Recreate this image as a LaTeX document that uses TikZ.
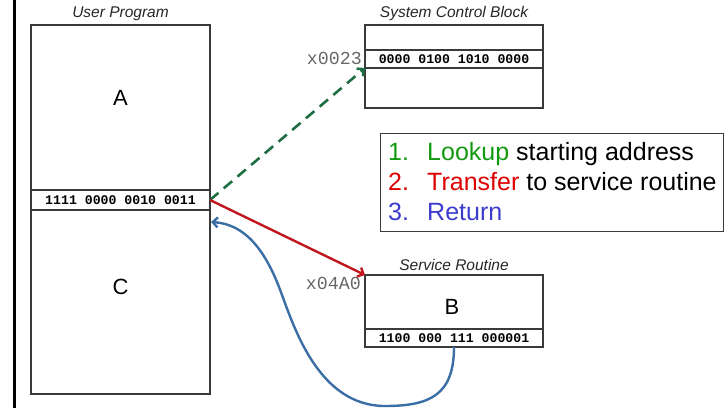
\documentclass[tikz,border=0pt]{standalone}
\usepackage{fontspec}
\setmainfont{Liberation Sans}
\setmonofont{Liberation Mono}
\usetikzlibrary{arrows.meta}
\definecolor{boxline}{HTML}{3A3A3A}
\definecolor{lookgreen}{HTML}{1F6E43}
\definecolor{jmpred}{HTML}{C0171F}
\definecolor{retblue}{HTML}{3A6EA5}
\definecolor{txtgreen}{HTML}{119A11}
\definecolor{txtred}{HTML}{DD0000}
\definecolor{txtblue}{HTML}{3C3CCC}
\begin{document}
\begin{tikzpicture}[x=1pt, y=1pt,
    mem/.style={draw=boxline, line width=1.6pt, anchor=north west, inner sep=0pt, outer sep=0pt},
    word/.style={mem, font=\fontsize{13.2}{14}\selectfont\ttfamily\bfseries},
    title/.style={font=\fontsize{15.5}{17}\selectfont\itshape, text=black!85},
    addr/.style={anchor=east, inner sep=0pt, text=black!60, font=\fontsize{18.3}{20}\selectfont\ttfamily},
    big/.style={font=\fontsize{22}{24}\selectfont}]
    \useasboundingbox (0, 0) rectangle (725, -408);
    \draw[line width=3pt] (14.3, 0) -- (14.3, -408);
    % user program
    \node[mem, minimum width=179, minimum height=369] (prog) at (31, -25) {};
    \node[word, minimum width=179, minimum height=20] (trapinst) at (31, -190) {1111 0000 0010 0011};
    \node[title] (progtitle) at (prog.north) [above=1pt] {User Program};
    \node[big] (blkA) at (120.5, -98) {A};
    \node[big] (blkC) at (120.5, -287) {C};
    \coordinate (retpt) at (211, -222);
    % system control block
    \node[mem, minimum width=178, minimum height=83] (scb) at (365, -25) {};
    \node[word, minimum width=178, minimum height=18] (vecrow) at (365, -50) {0000 0100 1010 0000};
    \node[title] (scbtitle) at (scb.north) [above=1pt] {System Control Block};
    \node[addr] (vecaddr) at (362, -58) {x0023};
    % service routine
    \node[mem, minimum width=178, minimum height=72] (srv) at (365, -275) {};
    \node[word, minimum width=178, minimum height=18] (retrow) at (365, -329) {1100 000 111 000001};
    \node[title] (srvtitle) at (srv.north) [above=1pt] {Service Routine};
    \node[big] (blkB) at (452, -307) {B};
    \node[addr] (srvaddr) at (361, -283) {x04A0};
    % legend
    \node[draw=boxline, line width=1pt, anchor=north west, minimum width=343, minimum height=98,
          inner sep=0pt, outer sep=0pt] (legend) at (380, -133) {};
    \node[anchor=west, inner sep=0pt, align=left, font=\fontsize{25}{30}\selectfont] (legtext) at (388, -182) {%
        \makebox[39pt][l]{\color{txtgreen}1.}{\color{txtgreen}Lookup} starting address\\
        \makebox[39pt][l]{\color{txtred}2.}{\color{txtred}Transfer} to service routine\\
        \makebox[39pt][l]{\color{txtblue}3.}{\color{txtblue}Return}};
    % connectors
    \draw[lookgreen, line width=2.6pt, dash pattern=on 11pt off 7pt, -{Straight Barb[length=5pt, width=10pt]}]
        (trapinst.east) -- (vecrow.south west);
    \draw[jmpred, line width=2.4pt, -{Straight Barb[length=5pt, width=10pt]}]
        (trapinst.east) -- (srv.north west);
    \draw[retblue, line width=2.4pt, -{Straight Barb[length=5pt, width=10pt]}]
        (retrow.south) .. controls (454, -395) and (430, -406) .. (385, -406)
        .. controls (320, -406) and (295, -330) .. (282, -295)
        .. controls (266, -250) and (245, -224) .. (retpt);
\end{tikzpicture}
\end{document}
